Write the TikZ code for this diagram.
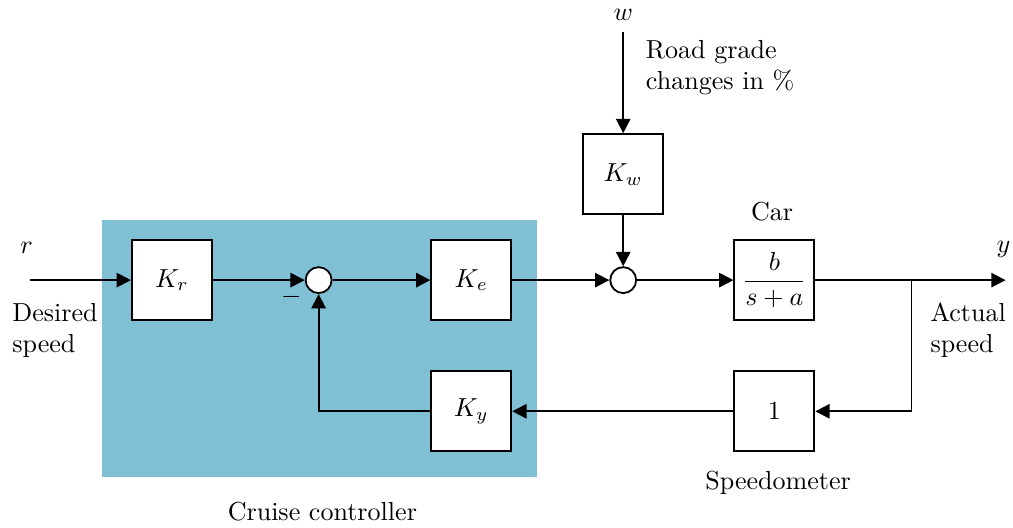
\documentclass[tikz,border=0pt]{standalone}
\usepackage{tikz}
\usetikzlibrary{positioning,arrows.meta,calc}
\usepackage{amsmath,amssymb}
\definecolor{ccBlue}{RGB}{127,192,212}

\begin{document}
\begin{tikzpicture}[
  blockbox/.style={draw=black, line width=0.7pt, fill=white,
                   minimum width=1.08cm, minimum height=1.08cm, inner sep=0pt},
  sumnode/.style={draw=black, line width=0.7pt, fill=white, circle,
                  minimum size=0.35cm, inner sep=0pt},
  sigarr/.style={-{Triangle[length=5.5pt,width=5.5pt]}, line width=0.7pt},
  lbl/.style={align=left, inner sep=0pt}
]
\useasboundingbox (-2.32,-3.335) rectangle (11.35,3.78);
%% Controller background
\fill[ccBlue] (-0.945,-2.66) rectangle (4.93,0.81);
\node (CCL) at (2.03,-3.13) {Cruise controller};
%% Blocks
\node[blockbox] (KR)  at (0,0)        {$K_r$};
\node[sumnode]  (S1)  at (1.98,0)     {};
\node[blockbox] (KE)  at (4.04,0)     {$K_e$};
\node[blockbox] (KY)  at (4.04,-1.77) {$K_y$};
\node[sumnode]  (S2)  at (6.09,0)     {};
\node[blockbox] (KW)  at (6.09,1.43)  {$K_w$};
\node[blockbox] (CAR) at (8.13,0)     {$\dfrac{b}{s+a}$};
\node[blockbox] (SPD) at (8.13,-1.77) {$1$};
%% Signal ends
\coordinate (RIN) at (-1.92,0);
\coordinate (WIN) at (6.09,3.35);
\coordinate (YOUT) at (11.25,0);
\coordinate (BR) at (9.98,0);
%% Labels
\node (R)   at (-1.96,0.43) {$r$};
\node (W)   at (6.09,3.58)  {$w$};
\node (Y)   at (11.22,0.41) {$y$};
\node (MIN) at (1.61,-0.23) {$-$};
\node (CARL) at (8.1,0.93)  {Car};
\node (SPDL) at (8.18,-2.74) {Speedometer};
\node[lbl, anchor=west] (DES) at (-2.16,-0.68) {Desired\\speed};
\node[lbl, anchor=west] (ACT) at (10.23,-0.68) {Actual\\speed};
\node[lbl, anchor=west] (RG)  at (6.39,2.87)   {Road grade\\changes in \%};
%% Forward path
\draw[sigarr] (RIN) -- (KR);
\draw[sigarr] (KR) -- (S1);
\draw[sigarr] (S1) -- (KE);
\draw[sigarr] (KE) -- (S2);
\draw[sigarr] (S2) -- (CAR);
\draw[sigarr] (CAR) -- (YOUT);
%% Disturbance
\draw[sigarr] (WIN) -- (KW);
\draw[sigarr] (KW) -- (S2);
%% Feedback
\draw[sigarr] (BR) |- (SPD);
\draw[sigarr] (SPD) -- (KY);
\draw[sigarr] (KY) -| (S1);
\end{tikzpicture}
\end{document}
